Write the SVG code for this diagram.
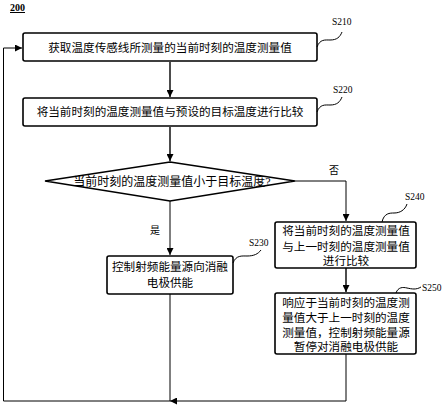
<svg xmlns="http://www.w3.org/2000/svg" width="444" height="408" viewBox="0 0 444 408">
<defs>
<marker id="ah" viewBox="0 0 10 10" refX="10" refY="5" markerWidth="7" markerHeight="7" markerUnits="userSpaceOnUse" orient="auto">
<path d="M0,0 L10,5 L0,10 z" fill="#000"/>
</marker>
<style>
.box{fill:#fff;stroke:#000;stroke-width:1.6}
.t{font-family:"Liberation Serif","Noto Sans CJK SC",serif;font-size:11.6px;fill:#000;text-anchor:middle}
.lbl{font-family:"Liberation Serif",serif;font-size:9.5px;fill:#000}
.c{fill:none;stroke:#000;stroke-width:1}
.cm{fill:none;stroke:#000;stroke-width:1.4}
.sq{fill:none;stroke:#000;stroke-width:1}
</style>
</defs>
<rect width="444" height="408" fill="#fff"/>
<text x="10" y="11" style="font-family:'Liberation Serif',serif;font-size:10px;font-weight:bold;text-decoration:underline">200</text>

<g id="connectors">
<path class="cm" d="M170,62 L170,97" marker-end="url(#ah)"/>
<path class="cm" d="M170,127 L170,161" marker-end="url(#ah)"/>
<path class="c" d="M295,181 L346,181 L346,221" marker-end="url(#ah)"/>
<path class="c" d="M170,201 L170,255" marker-end="url(#ah)"/>
<path class="cm" d="M346,268 L346,292" marker-end="url(#ah)"/>
<path class="c" d="M170,294 L170,401"/>
<path class="c" d="M346,354 L346,401 L170,401" marker-end="url(#ah)"/>
<path class="c" d="M170,401 L3.5,401 L3.5,48 L22,48" marker-end="url(#ah)"/>
<text x="334" y="174" class="t" style="font-size:10px">否</text>
<text x="155" y="234" class="t" style="font-size:10px">是</text>
</g>

<g id="S210">
<rect class="box" x="23" y="33" width="294" height="28" rx="2"/>
<text x="170" y="52" class="t">获取温度传感线所测量的当前时刻的温度测量值</text>
<path class="sq" d="M317,47 C320,39 325,40 330,40 C337,40 340,37 342,32"/>
<text x="332" y="25" class="lbl">S210</text>
</g>

<g id="S220">
<rect class="box" x="23" y="98" width="294" height="28" rx="2"/>
<text x="170" y="116" class="t">将当前时刻的温度测量值与预设的目标温度进行比较</text>
<path class="sq" d="M317,112 C320,104 325,105 330,105 C337,105 340,102 342,97"/>
<text x="333" y="93" class="lbl">S220</text>
</g>

<g id="decision">
<path class="box" d="M170,162 L295,181 L170,201 L45,181 Z"/>
<text x="172" y="186" class="t" style="font-size:12px">当前时刻的温度测量值小于目标温度?</text>
</g>

<g id="S230">
<rect class="box" x="107" y="256" width="126" height="38" rx="2"/>
<text x="170" y="271" class="t">控制射频能量源向消融</text>
<text x="170" y="287" class="t">电极供能</text>
<path class="sq" d="M233,263 C236,255 242,256 247,256 C254,256 258,254 261,250"/>
<text x="249" y="246" class="lbl">S230</text>
</g>

<g id="S240">
<rect class="box" x="275" y="222" width="141" height="46" rx="2"/>
<text x="346" y="235" class="t">将当前时刻的温度测量值</text>
<text x="346" y="251" class="t">与上一时刻的温度测量值</text>
<text x="346" y="265" class="t">进行比较</text>
<path class="sq" d="M382,222 C384,213 390,213 394,213 C400,213 405,210 407,204"/>
<text x="405" y="200" class="lbl">S240</text>
</g>

<g id="S250">
<rect class="box" x="275" y="293" width="141" height="61" rx="2"/>
<text x="346" y="307" class="t">响应于当前时刻的温度测</text>
<text x="346" y="322" class="t">量值大于上一时刻的温度</text>
<text x="346" y="337" class="t">测量值，控制射频能量源</text>
<text x="346" y="351" class="t">暂停对消融电极供能</text>
<path class="sq" d="M396,293 C398,287 403,287 407,288 C412,289 416,290 421,287"/>
<text x="422" y="291" class="lbl">S250</text>
</g>
</svg>
